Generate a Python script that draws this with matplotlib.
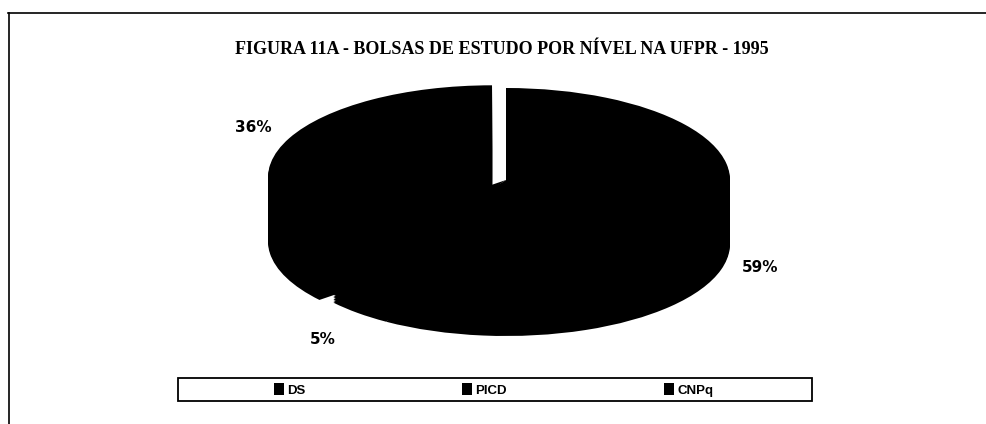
import numpy as np
import matplotlib
matplotlib.use('Agg')
import matplotlib.pyplot as plt
from matplotlib.patches import Rectangle, FancyBboxPatch
from matplotlib.lines import Line2D

# data
categories = ['DS', 'PICD', 'CNPq']
shares = [59, 5, 36]
explode = [0, 0, 0.069]
title = 'FIGURA 11A - BOLSAS DE ESTUDO POR NÍVEL NA UFPR - 1995'

W, H = 987, 424
fig = plt.figure(figsize=(W / 100, H / 100), dpi=100)
fig.patch.set_facecolor('white')

# pie geometry in pixels (top face ellipse + extrusion depth)
cx, cy, a, b, depth = 506, 180, 224, 92, 64

ax = fig.add_axes([0, 0, 1, 1])
dd = depth / b
for d in np.linspace(dd, 0, 40):
    wedges, _ = ax.pie(shares, explode=explode, startangle=90, counterclock=False,
                       center=(0, -d), radius=1, colors=['black'] * 3,
                       wedgeprops=dict(linewidth=0))
ax.set_aspect('auto')
ax.set_xlim(-cx / a, (W - cx) / a)
ax.set_ylim((cy - H) / b, cy / b)
ax.axis('off')

# percentage labels
label_pos = {'DS': (760, 268), 'PICD': (323, 340), 'CNPq': (253, 127)}
for cat, v in zip(categories, shares):
    px, py = label_pos[cat]
    fig.text(px / W, 1 - py / H, f'{v}%', ha='center', va='center',
             fontsize=11, fontweight='heavy', family='DejaVu Sans', color='black')

fig.text(502 / W, 1 - 50 / H, title, ha='center', va='center',
         fontsize=13, fontweight='bold', family='Liberation Serif')

# legend box
x0, y0, x1, y1 = 178, 378, 812, 401
fig.patches.append(Rectangle((x0 / W, 1 - y1 / H), (x1 - x0) / W, (y1 - y0) / H,
                             transform=fig.transFigure, fill=False, edgecolor='black', lw=1.3))
handles = [Rectangle((0, 0), 1, 1, facecolor='black') for _ in categories]
leg = fig.legend(handles, categories, ncol=3, frameon=False,
                 loc='center left', bbox_to_anchor=(262 / W, 1 - 390 / H),
                 handlelength=0.75, handleheight=0.95, handletextpad=0.25,
                 columnspacing=11.9, prop=dict(family='Liberation Sans', weight='bold', size=9.5))

# page frame lines from the scan
fig.add_artist(Line2D([8 / W, 1], [1 - 13 / H, 1 - 13 / H], transform=fig.transFigure, color='black', lw=1.2))
fig.add_artist(Line2D([9 / W, 9 / W], [1 - 13 / H, 0], transform=fig.transFigure, color='black', lw=1.2))

fig.savefig('out.png', dpi=100)
